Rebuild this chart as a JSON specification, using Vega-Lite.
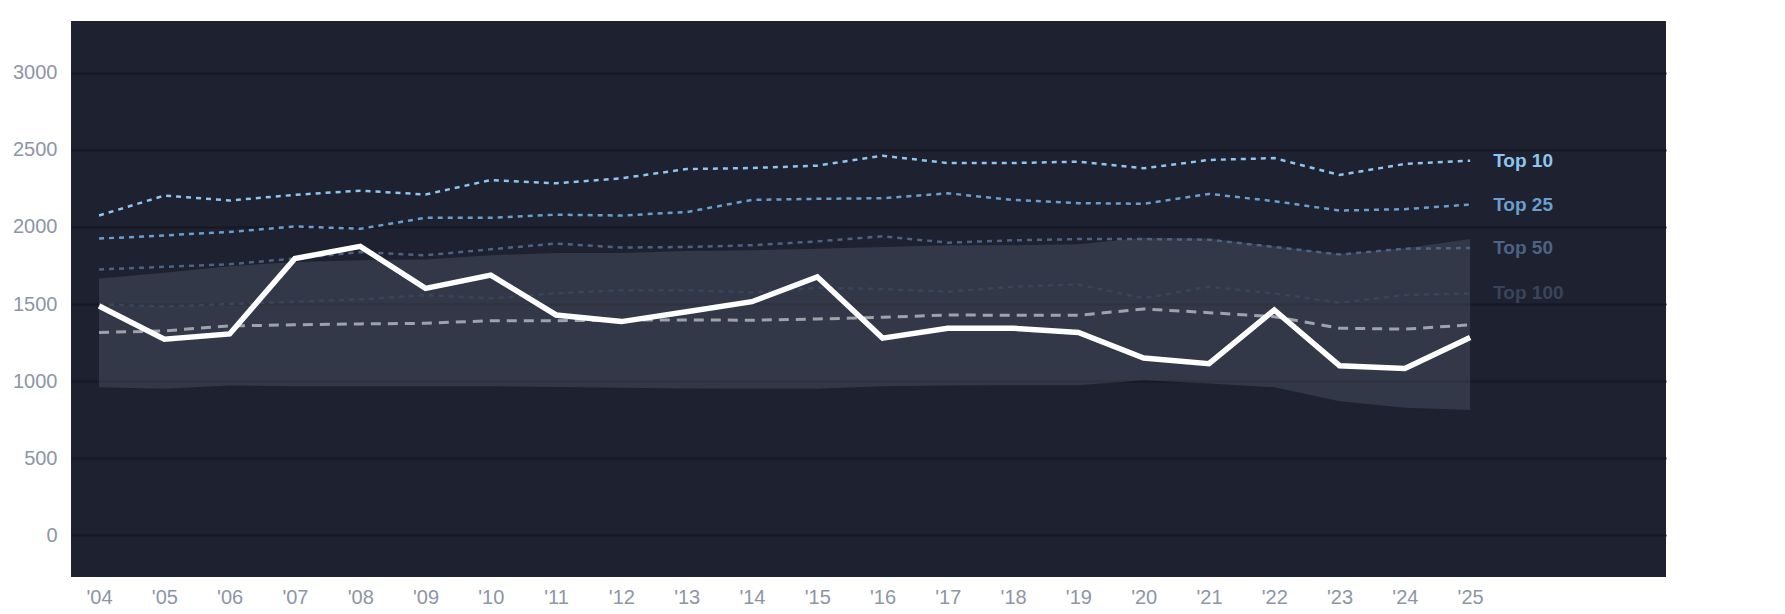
{
  "$schema": "https://vega.github.io/schema/vega-lite/v6.json",
  "width": 1595,
  "height": 556,
  "autosize": "none",
  "padding": {"left": 71, "top": 21, "right": 119, "bottom": 37},
  "background": "white",
  "config": {
    "font": "Liberation Sans",
    "view": {"fill": "#1d2130", "stroke": null},
    "axis": {"labelFont": "Liberation Sans", "labelFontSize": 20, "labelColor": "#8d95a7", "domain": false, "ticks": false, "title": null}
  },
  "data": {
    "values": [
      {"year": 2004, "Top 10": 2074, "Top 25": 1924, "Top 50": 1724, "Top 100": 1498, "median": 1315, "value": 1487, "lo": 960, "hi": 1666},
      {"year": 2005, "Top 10": 2203, "Top 25": 1945, "Top 50": 1741, "Top 100": 1483, "median": 1326, "value": 1272, "lo": 950, "hi": 1702},
      {"year": 2006, "Top 10": 2171, "Top 25": 1967, "Top 50": 1758, "Top 100": 1500, "median": 1358, "value": 1306, "lo": 971, "hi": 1745},
      {"year": 2007, "Top 10": 2208, "Top 25": 2003, "Top 50": 1795, "Top 100": 1515, "median": 1365, "value": 1795, "lo": 967, "hi": 1773},
      {"year": 2008, "Top 10": 2235, "Top 25": 1988, "Top 50": 1837, "Top 100": 1530, "median": 1371, "value": 1874, "lo": 967, "hi": 1784},
      {"year": 2009, "Top 10": 2210, "Top 25": 2059, "Top 50": 1816, "Top 100": 1558, "median": 1375, "value": 1601, "lo": 967, "hi": 1788},
      {"year": 2010, "Top 10": 2304, "Top 25": 2059, "Top 50": 1855, "Top 100": 1537, "median": 1392, "value": 1687, "lo": 967, "hi": 1816},
      {"year": 2011, "Top 10": 2283, "Top 25": 2079, "Top 50": 1892, "Top 100": 1569, "median": 1392, "value": 1429, "lo": 962, "hi": 1831},
      {"year": 2012, "Top 10": 2315, "Top 25": 2074, "Top 50": 1866, "Top 100": 1590, "median": 1395, "value": 1386, "lo": 957, "hi": 1831},
      {"year": 2013, "Top 10": 2375, "Top 25": 2096, "Top 50": 1870, "Top 100": 1590, "median": 1397, "value": 1450, "lo": 953, "hi": 1844},
      {"year": 2014, "Top 10": 2382, "Top 25": 2175, "Top 50": 1881, "Top 100": 1575, "median": 1395, "value": 1515, "lo": 950, "hi": 1848},
      {"year": 2015, "Top 10": 2397, "Top 25": 2182, "Top 50": 1906, "Top 100": 1605, "median": 1403, "value": 1676, "lo": 950, "hi": 1859},
      {"year": 2016, "Top 10": 2461, "Top 25": 2186, "Top 50": 1939, "Top 100": 1597, "median": 1414, "value": 1279, "lo": 967, "hi": 1870},
      {"year": 2017, "Top 10": 2414, "Top 25": 2218, "Top 50": 1898, "Top 100": 1580, "median": 1429, "value": 1343, "lo": 971, "hi": 1881},
      {"year": 2018, "Top 10": 2414, "Top 25": 2175, "Top 50": 1913, "Top 100": 1612, "median": 1427, "value": 1343, "lo": 973, "hi": 1881},
      {"year": 2019, "Top 10": 2423, "Top 25": 2154, "Top 50": 1921, "Top 100": 1627, "median": 1427, "value": 1315, "lo": 973, "hi": 1887},
      {"year": 2020, "Top 10": 2380, "Top 25": 2150, "Top 50": 1921, "Top 100": 1537, "median": 1468, "value": 1150, "lo": 1005, "hi": 1930},
      {"year": 2021, "Top 10": 2434, "Top 25": 2214, "Top 50": 1917, "Top 100": 1612, "median": 1444, "value": 1113, "lo": 984, "hi": 1924},
      {"year": 2022, "Top 10": 2446, "Top 25": 2167, "Top 50": 1870, "Top 100": 1569, "median": 1418, "value": 1461, "lo": 960, "hi": 1875},
      {"year": 2023, "Top 10": 2337, "Top 25": 2106, "Top 50": 1821, "Top 100": 1508, "median": 1343, "value": 1100, "lo": 870, "hi": 1825},
      {"year": 2024, "Top 10": 2408, "Top 25": 2115, "Top 50": 1859, "Top 100": 1558, "median": 1337, "value": 1082, "lo": 827, "hi": 1862},
      {"year": 2025, "Top 10": 2429, "Top 25": 2145, "Top 50": 1863, "Top 100": 1569, "median": 1365, "value": 1283, "lo": 812, "hi": 1921}
    ]
  },
  "encoding": {
    "x": {
      "field": "year", "type": "quantitative",
      "scale": {"domain": [2003.57, 2028], "nice": false, "zero": false},
      "axis": {
        "values": [2004, 2005, 2006, 2007, 2008, 2009, 2010, 2011, 2012, 2013, 2014, 2015, 2016, 2017, 2018, 2019, 2020, 2021, 2022, 2023, 2024, 2025],
        "labelExpr": "\"'\" + slice(toString(datum.value), 2)",
        "grid": false, "labelPadding": 10, "labelOverlap": false
      }
    }
  },
  "layer": [
    {
      "mark": {"type": "area", "color": "#5a6072", "opacity": 0.36},
      "encoding": {
        "y": {
          "field": "lo", "type": "quantitative",
          "scale": {"domain": [-270, 3335], "nice": false, "zero": false},
          "axis": {"values": [0, 500, 1000, 1500, 2000, 2500, 3000], "format": "d", "grid": true, "gridColor": "#161921", "gridWidth": 2, "labelPadding": 14}
        },
        "y2": {"field": "hi"}
      }
    },
    {
      "transform": [{"fold": ["Top 10", "Top 25", "Top 50", "Top 100"], "as": ["series", "v"]}],
      "mark": {"type": "line", "strokeWidth": 2.5, "strokeDash": [5, 5]},
      "encoding": {
        "y": {"field": "v", "type": "quantitative"},
        "color": {
          "field": "series", "type": "nominal",
          "scale": {"domain": ["Top 10", "Top 25", "Top 50", "Top 100"], "range": ["#8fc5ee", "#6a9fcd", "#4d6384", "#3a4559"]},
          "legend": null
        }
      }
    },
    {
      "mark": {"type": "line", "color": "#9da2ac", "strokeWidth": 3, "strokeDash": [10, 7]},
      "encoding": {"y": {"field": "median", "type": "quantitative"}}
    },
    {
      "mark": {"type": "line", "color": "#ffffff", "strokeWidth": 5.5},
      "encoding": {"y": {"field": "value", "type": "quantitative"}}
    },
    {
      "transform": [
        {"filter": "datum.year == 2025"},
        {"fold": ["Top 10", "Top 25", "Top 50", "Top 100"], "as": ["series", "v"]}
      ],
      "mark": {"type": "text", "align": "left", "baseline": "middle", "dx": 23, "fontSize": 19, "fontWeight": "bold"},
      "encoding": {
        "y": {"field": "v", "type": "quantitative"},
        "text": {"field": "series"},
        "color": {"field": "series", "type": "nominal", "legend": null}
      }
    }
  ]
}
